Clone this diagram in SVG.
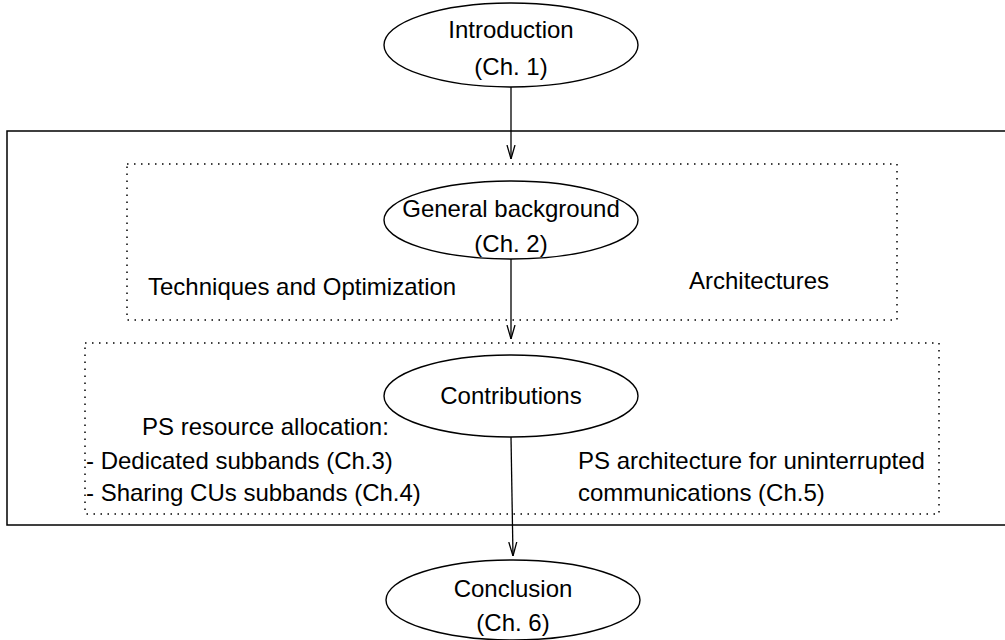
<svg xmlns="http://www.w3.org/2000/svg" width="1005" height="640" viewBox="0 0 1005 640">
  <style>
    .node ellipse { fill: #ffffff; stroke: #000000; stroke-width: 1.4; }
    text { font-family: "Liberation Sans", Arial, sans-serif; font-size: 24px; fill: #000000; }
    .c { text-anchor: middle; }
    .box { fill: none; stroke: #000000; stroke-width: 1.5; }
    .dot { fill: none; stroke: #000000; stroke-width: 1.5; stroke-dasharray: 1.5 5.5; }
    .edge { fill: none; stroke: #000000; stroke-width: 1.3; marker-end: url(#arr); }
  </style>
  <defs>
    <marker id="arr" markerUnits="userSpaceOnUse" viewBox="0 0 14 10" refX="14" refY="5" markerWidth="14" markerHeight="10" orient="auto">
      <path d="M0,1 L14,5 L0,9" fill="none" stroke="#000000" stroke-width="1.3"/>
    </marker>
  </defs>
  <rect width="1005" height="640" fill="#ffffff"/>

  <g id="frames">
    <rect class="box" x="7" y="131" width="1010" height="394"/>
    <rect class="dot" x="127" y="164" width="770" height="156"/>
    <rect class="dot" x="85" y="343" width="854" height="171"/>
  </g>

  <g id="connectors">
    <line class="edge" x1="511" y1="87" x2="511" y2="159"/>
    <line class="edge" x1="511" y1="259" x2="511" y2="339"/>
    <line class="edge" x1="511" y1="437" x2="513" y2="556"/>
  </g>

  <g id="introduction" class="node">
    <ellipse cx="511" cy="45" rx="127" ry="42"/>
    <text class="c" x="511" y="38">Introduction</text>
    <text class="c" x="511" y="75">(Ch. 1)</text>
  </g>

  <g id="general-background" class="node">
    <ellipse cx="511" cy="220" rx="127" ry="39"/>
    <text class="c" x="511" y="217">General background</text>
    <text class="c" x="511" y="252">(Ch. 2)</text>
  </g>

  <g id="techniques-label">
    <text x="148" y="295">Techniques and Optimization</text>
  </g>
  <g id="architectures-label">
    <text x="689" y="289">Architectures</text>
  </g>

  <g id="contributions" class="node">
    <ellipse cx="511" cy="396" rx="127" ry="41"/>
    <text class="c" x="511" y="404">Contributions</text>
  </g>

  <g id="resource-allocation-label">
    <text x="142" y="435">PS resource allocation:</text>
    <text x="86" y="469">- Dedicated subbands (Ch.3)</text>
    <text x="86" y="501">- Sharing CUs subbands (Ch.4)</text>
  </g>

  <g id="architecture-label">
    <text x="578" y="469">PS architecture for uninterrupted</text>
    <text x="578" y="501">communications (Ch.5)</text>
  </g>

  <g id="conclusion" class="node">
    <ellipse cx="513" cy="600" rx="127" ry="40"/>
    <text class="c" x="513" y="597">Conclusion</text>
    <text class="c" x="513" y="631">(Ch. 6)</text>
  </g>
</svg>
